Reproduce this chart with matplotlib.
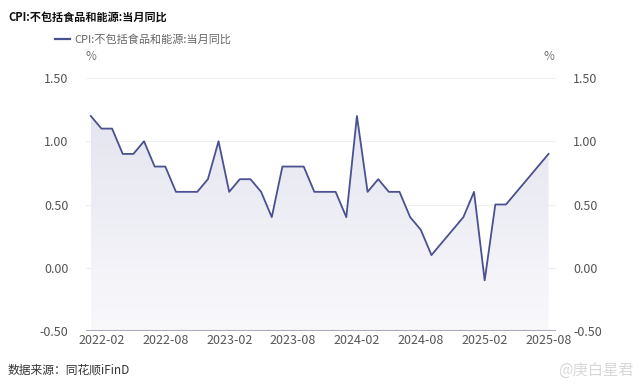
import numpy as np
import matplotlib.pyplot as plt
from matplotlib.patches import Polygon

plt.rcParams['font.family'] = ['Noto Sans CJK SC', 'DejaVu Sans']

months = [f"{y}-{m:02d}" for y in range(2022, 2026) for m in range(1, 13)][:44]
core_cpi = [1.2, 1.1, 1.1, 0.9, 0.9, 1.0, 0.8, 0.8, 0.6, 0.6, 0.6, 0.7,
            1.0, 0.6, 0.7, 0.7, 0.6, 0.4, 0.8, 0.8, 0.8, 0.6, 0.6, 0.6,
            0.4, 1.2, 0.6, 0.7, 0.6, 0.6, 0.4, 0.3, 0.1, 0.2, 0.3, 0.4,
            0.6, -0.1, 0.5, 0.5, 0.6, 0.7, 0.8, 0.9]
tick_labels = ['2022-02', '2022-08', '2023-02', '2023-08',
               '2024-02', '2024-08', '2025-02', '2025-08']
y_ticks = [-0.5, 0.0, 0.5, 1.0, 1.5]

line_color = '#4b5090'
x = np.arange(len(core_cpi))

fig = plt.figure(figsize=(6.4, 3.85), dpi=100)
ax = fig.add_axes([86 / 640, 1 - 331 / 385, 470 / 640, 253 / 385])

ymin, ymax = -0.5, 1.5
ax.set_xlim(-0.45, len(core_cpi) - 1 + 0.7)
ax.set_ylim(ymin, ymax)

# gradient fill under line
grad = np.linspace(0, 1, 256).reshape(-1, 1)
img = ax.imshow(grad, extent=[x[0], x[-1], ymin, max(core_cpi)], origin='lower',
                aspect='auto', cmap=plt.matplotlib.colors.LinearSegmentedColormap.from_list(
                    'g', ['#f9f9fc', '#e4e5ef']), zorder=1)
verts = [(x[0], ymin)] + list(zip(x, core_cpi)) + [(x[-1], ymin)]
poly = Polygon(verts, closed=True, facecolor='none', edgecolor='none')
ax.add_patch(poly)
img.set_clip_path(poly)

ax.plot(x, core_cpi, color=line_color, lw=1.3, zorder=3)

for yv in y_ticks[1:]:
    ax.axhline(yv, color='#eeeff3', lw=0.8, zorder=0)
ax.axhline(ymin, color='#a9adbb', lw=1.5, zorder=2)

for s in ax.spines.values():
    s.set_visible(False)

ax.set_yticks(y_ticks)
ax.set_yticklabels([f"{v:.2f}" for v in y_ticks])
ax.set_xticks([months.index(t) for t in tick_labels])
ax.set_xticklabels(tick_labels)
ax.tick_params(axis='y', left=False, right=False, labelleft=True, labelright=True,
               labelsize=9, labelcolor='#555555', pad=9)
ax.tick_params(axis='x', length=0, labelsize=9, labelcolor='#555555', pad=2)

fig.text(8 / 640, 1 - 17 / 385, 'CPI:不包括食品和能源:当月同比', fontsize=8,
         fontweight='bold', color='#111111', va='center')
fig.lines.append(plt.Line2D([55 / 640, 70 / 640], [1 - 39 / 385] * 2,
                            color=line_color, lw=1.6, transform=fig.transFigure))
fig.text(74 / 640, 1 - 39 / 385, 'CPI:不包括食品和能源:当月同比', fontsize=8,
         color='#666666', va='center')
fig.text(91 / 640, 1 - 57 / 385, '%', fontsize=8.5, color='#777777', ha='center', va='center')
fig.text(549 / 640, 1 - 57 / 385, '%', fontsize=8.5, color='#777777', ha='center', va='center')
fig.text(8 / 640, 1 - 370 / 385, '数据来源：同花顺iFinD', fontsize=8.5,
         color='#333333', va='center')
fig.text(634 / 640, 1 - 370 / 385, '@庚白星君', fontsize=11,
         color='#d8d8d8', ha='right', va='center')

fig.savefig('out.png', dpi=100)
